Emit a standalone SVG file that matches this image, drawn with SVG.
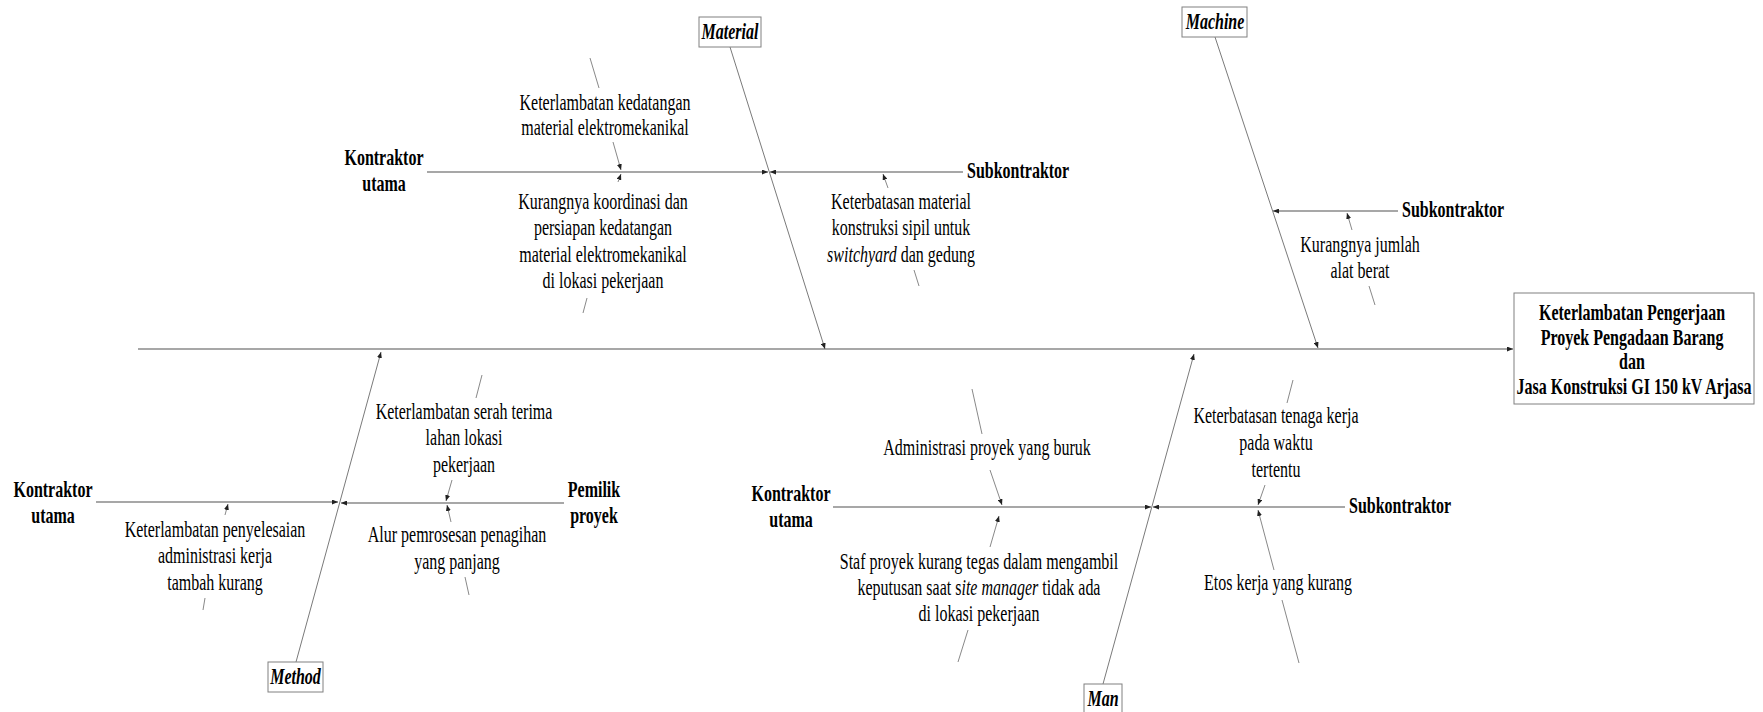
<svg xmlns="http://www.w3.org/2000/svg" width="1763" height="712" viewBox="0 0 1763 712">
  <style>
    .t { font-family: "Liberation Serif", "Times New Roman", serif; font-size: 23px; fill: #000; }
    .c { text-anchor: middle; }
    .b { font-weight: bold; }
    .bi { font-weight: bold; font-style: italic; }
    .box { fill: #fff; stroke: #808080; stroke-width: 1; }
    .bone { stroke: #7a7a7a; stroke-width: 1; fill: none; }
    .rib { stroke: #8a8a8a; stroke-width: 1.4; fill: none; }
    .sub { stroke: #7a7a7a; stroke-width: 0.9; fill: none; }
  </style>
  <defs>
    <marker id="ah" viewBox="0 0 6 5" refX="6" refY="2.5" markerWidth="6" markerHeight="5" markerUnits="userSpaceOnUse" orient="auto">
      <path d="M0,0 L6,2.5 L0,5 z" fill="#222"/>
    </marker>
  </defs>
  <rect width="1763" height="712" fill="#fff"/>

  <!-- connectors: spine, category bones, horizontal ribs and cause arrows -->
  <g id="connectors">
    <line class="rib" x1="138" y1="349" x2="1513" y2="349" marker-end="url(#ah)"/>

    <line class="bone" x1="730" y1="47" x2="825" y2="349" marker-end="url(#ah)"/>
    <line class="bone" x1="1215" y1="37" x2="1318" y2="348" marker-end="url(#ah)"/>
    <line class="bone" x1="296" y1="662" x2="381" y2="352" marker-end="url(#ah)"/>
    <line class="bone" x1="1103" y1="684" x2="1194" y2="354" marker-end="url(#ah)"/>

    <line class="rib" x1="427" y1="172" x2="768" y2="172" marker-end="url(#ah)"/>
    <line class="rib" x1="963" y1="172" x2="770" y2="172" marker-end="url(#ah)"/>
    <line class="rib" x1="1398" y1="211" x2="1273" y2="211" marker-end="url(#ah)"/>
    <line class="rib" x1="96" y1="502" x2="338" y2="502" marker-end="url(#ah)"/>
    <line class="rib" x1="564" y1="503" x2="341" y2="503" marker-end="url(#ah)"/>
    <line class="rib" x1="833" y1="507" x2="1151" y2="507" marker-end="url(#ah)"/>
    <line class="rib" x1="1345" y1="507" x2="1153" y2="507" marker-end="url(#ah)"/>

    <line class="sub" x1="590" y1="58" x2="599" y2="88"/>
    <line class="sub" x1="613" y1="142" x2="621" y2="170" marker-end="url(#ah)"/>
    <line class="sub" x1="583" y1="313" x2="587" y2="298"/>
    <line class="sub" x1="618" y1="182" x2="621" y2="174" marker-end="url(#ah)"/>
    <line class="sub" x1="919" y1="286" x2="914" y2="270"/>
    <line class="sub" x1="888" y1="188" x2="883" y2="174" marker-end="url(#ah)"/>
    <line class="sub" x1="1375" y1="305" x2="1369" y2="286"/>
    <line class="sub" x1="1352" y1="230" x2="1347" y2="213" marker-end="url(#ah)"/>
    <line class="sub" x1="203" y1="610" x2="205" y2="598"/>
    <line class="sub" x1="225" y1="515" x2="228" y2="504" marker-end="url(#ah)"/>
    <line class="sub" x1="482" y1="375" x2="476" y2="398"/>
    <line class="sub" x1="452" y1="480" x2="446" y2="501" marker-end="url(#ah)"/>
    <line class="sub" x1="469" y1="595" x2="465" y2="577"/>
    <line class="sub" x1="451" y1="522" x2="447" y2="505" marker-end="url(#ah)"/>
    <line class="sub" x1="972" y1="389" x2="982" y2="434"/>
    <line class="sub" x1="990" y1="470" x2="1002" y2="505" marker-end="url(#ah)"/>
    <line class="sub" x1="958" y1="662" x2="968" y2="630"/>
    <line class="sub" x1="990" y1="547" x2="999" y2="516" marker-end="url(#ah)"/>
    <line class="sub" x1="1293" y1="380" x2="1287" y2="403"/>
    <line class="sub" x1="1265" y1="485" x2="1258" y2="505" marker-end="url(#ah)"/>
    <line class="sub" x1="1299" y1="663" x2="1282" y2="600"/>
    <line class="sub" x1="1274" y1="570" x2="1258" y2="510" marker-end="url(#ah)"/>
  </g>

  <!-- effect -->
  <g id="effect">
    <rect class="box" x="1514" y="293" width="240" height="111"/>
    <text class="t b c" transform="translate(1634,320) scale(0.696,1)">
      <tspan x="0">Keterlambatan Pengerjaan</tspan>
      <tspan x="0" dy="25">Proyek Pengadaan Barang</tspan>
      <tspan x="0" dy="24.5">dan</tspan>
      <tspan x="0" dy="25">Jasa Konstruksi GI 150 kV Arjasa</tspan>
    </text>
  </g>

  <!-- categories -->
  <g id="cat-material">
    <rect class="box" x="699" y="17" width="62" height="30"/>
    <text class="t bi c" transform="translate(730,39) scale(0.696,1)">Material</text>
  </g>
  <g id="cat-machine">
    <rect class="box" x="1182" y="7" width="65" height="30"/>
    <text class="t bi c" transform="translate(1215,29) scale(0.696,1)">Machine</text>
  </g>
  <g id="cat-method">
    <rect class="box" x="268" y="662" width="55" height="30"/>
    <text class="t bi c" transform="translate(295.5,684) scale(0.696,1)">Method</text>
  </g>
  <g id="cat-man">
    <rect class="box" x="1084" y="684" width="38" height="32"/>
    <text class="t bi c" transform="translate(1103,706) scale(0.696,1)">Man</text>
  </g>

  <!-- rib labels -->
  <g id="lbl-material-kontraktor">
    <text class="t b c" transform="translate(384,165) scale(0.696,1)"><tspan x="0">Kontraktor</tspan><tspan x="0" dy="26">utama</tspan></text>
  </g>
  <g id="lbl-material-sub">
    <text class="t b" transform="translate(967,178) scale(0.696,1)">Subkontraktor</text>
  </g>
  <g id="lbl-machine-sub">
    <text class="t b" transform="translate(1402,217) scale(0.696,1)">Subkontraktor</text>
  </g>
  <g id="lbl-method-kontraktor">
    <text class="t b c" transform="translate(53,497) scale(0.696,1)"><tspan x="0">Kontraktor</tspan><tspan x="0" dy="26">utama</tspan></text>
  </g>
  <g id="lbl-method-pemilik">
    <text class="t b c" transform="translate(594,497) scale(0.696,1)"><tspan x="0">Pemilik</tspan><tspan x="0" dy="26">proyek</tspan></text>
  </g>
  <g id="lbl-man-kontraktor">
    <text class="t b c" transform="translate(791,501) scale(0.696,1)"><tspan x="0">Kontraktor</tspan><tspan x="0" dy="26">utama</tspan></text>
  </g>
  <g id="lbl-man-sub">
    <text class="t b" transform="translate(1349,513) scale(0.696,1)">Subkontraktor</text>
  </g>

  <!-- causes -->
  <g id="cause-1">
    <text class="t c" transform="translate(605,110) scale(0.696,1)"><tspan x="0">Keterlambatan kedatangan</tspan><tspan x="0" dy="25">material elektromekanikal</tspan></text>
  </g>
  <g id="cause-2">
    <text class="t c" transform="translate(603,209) scale(0.696,1)"><tspan x="0">Kurangnya koordinasi dan</tspan><tspan x="0" dy="26.4">persiapan kedatangan</tspan><tspan x="0" dy="26.4">material elektromekanikal</tspan><tspan x="0" dy="26.4">di lokasi pekerjaan</tspan></text>
  </g>
  <g id="cause-3">
    <text class="t c" transform="translate(901,209) scale(0.696,1)"><tspan x="0">Keterbatasan material</tspan><tspan x="0" dy="26.5">konstruksi sipil untuk</tspan><tspan x="0" dy="26.5"><tspan font-style="italic">switchyard</tspan> dan gedung</tspan></text>
  </g>
  <g id="cause-4">
    <text class="t c" transform="translate(1360,252) scale(0.696,1)"><tspan x="0">Kurangnya jumlah</tspan><tspan x="0" dy="26.5">alat berat</tspan></text>
  </g>
  <g id="cause-5">
    <text class="t c" transform="translate(215,537) scale(0.696,1)"><tspan x="0">Keterlambatan penyelesaian</tspan><tspan x="0" dy="26.5">administrasi kerja</tspan><tspan x="0" dy="26.5">tambah kurang</tspan></text>
  </g>
  <g id="cause-6">
    <text class="t c" transform="translate(464,419) scale(0.696,1)"><tspan x="0">Keterlambatan serah terima</tspan><tspan x="0" dy="26.5">lahan lokasi</tspan><tspan x="0" dy="26.5">pekerjaan</tspan></text>
  </g>
  <g id="cause-7">
    <text class="t c" transform="translate(457,542) scale(0.696,1)"><tspan x="0">Alur pemrosesan penagihan</tspan><tspan x="0" dy="27">yang panjang</tspan></text>
  </g>
  <g id="cause-8">
    <text class="t c" transform="translate(987,455) scale(0.696,1)">Administrasi proyek yang buruk</text>
  </g>
  <g id="cause-9">
    <text class="t c" transform="translate(979,569) scale(0.696,1)"><tspan x="0">Staf proyek kurang tegas dalam mengambil</tspan><tspan x="0" dy="26">keputusan saat s<tspan font-style="italic">ite manager</tspan> tidak ada</tspan><tspan x="0" dy="26">di lokasi pekerjaan</tspan></text>
  </g>
  <g id="cause-10">
    <text class="t c" transform="translate(1276,423) scale(0.696,1)"><tspan x="0">Keterbatasan tenaga kerja</tspan><tspan x="0" dy="27">pada waktu</tspan><tspan x="0" dy="27">tertentu</tspan></text>
  </g>
  <g id="cause-11">
    <text class="t c" transform="translate(1278,590) scale(0.696,1)">Etos kerja yang kurang</text>
  </g>
</svg>
